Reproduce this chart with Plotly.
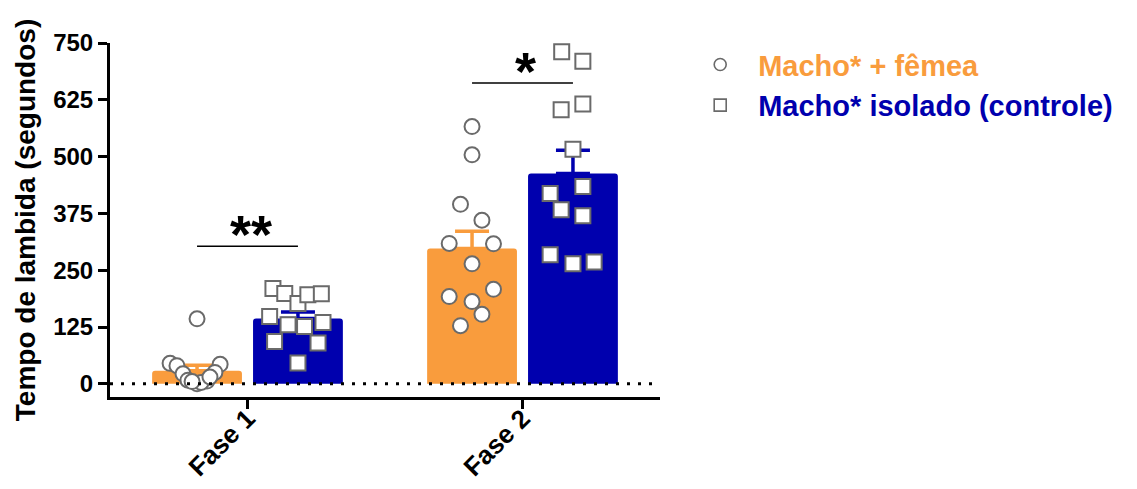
import plotly.graph_objects as go

# Phases on the x axis
phases = ["Fase 1", "Fase 2"]

# Group means and SEM (segundos)
mean_femea = [29, 298]
sem_femea = [12, 38]
mean_isolado = [144, 463]
sem_isolado = [14, 51]

# Individual animals, phase 1
fase1_femea = [143, 45, 40, 43, 22, 25, 8, 6, 0, 3, 15, 5]
fase1_isolado = [210, 199, 177, 196, 198, 148, 130, 126, 135, 93, 90, 46]

# Individual animals, phase 2
fase2_femea = [566, 504, 395, 360, 309, 308, 264, 208, 192, 181, 153, 128]
fase2_isolado = [731, 710, 603, 616, 516, 434, 419, 383, 370, 284, 264, 268]

# Horizontal scatter of the dots inside each bar (axis units)
jit1_femea = [0, -0.098, -0.073, 0.084, -0.051, 0.065, -0.033, 0.036, 0, 0.015, 0.047, -0.018]
jit1_isolado = [-0.091, -0.048, 0, 0.036, 0.085, -0.103, -0.036, 0.024, 0.091, -0.085, 0.073, 0]
jit2_femea = [0, 0, -0.042, 0.036, -0.083, 0.078, 0, 0.078, -0.083, 0, 0.036, -0.042]
jit2_isolado = [-0.041, 0.036, -0.043, 0.036, 0, 0.036, -0.083, -0.043, 0.036, -0.083, 0, 0.077]

yticks = [0, 125, 250, 375, 500, 625, 750]

ORANGE = "#F99C3D"
BLUE = "#0000AE"
GREY = "#6A6A6A"
FONT = "Arial, Liberation Sans, sans-serif"

pos = [0, 1]
half = 0.1835  # centre of each bar relative to its phase tick

fig = go.Figure()

fig.add_trace(go.Bar(
    x=pos, y=mean_femea, marker=dict(color=ORANGE, line=dict(width=0)),
    error_y=dict(type="data", symmetric=False, array=sem_femea,
                 arrayminus=[0, 0], color=ORANGE, thickness=3.5, width=17),
    showlegend=False,
))
fig.add_trace(go.Bar(
    x=pos, y=mean_isolado, marker=dict(color=BLUE, line=dict(width=0)),
    error_y=dict(type="data", symmetric=False, array=sem_isolado,
                 arrayminus=[0, 0], color=BLUE, thickness=3.5, width=17),
    showlegend=False,
))

x_femea = [pos[0] - half + j for j in jit1_femea] + [pos[1] - half + j for j in jit2_femea]
x_isol = [pos[0] + half + j for j in jit1_isolado] + [pos[1] + half + j for j in jit2_isolado]

dot_line = dict(color=GREY, width=2)
fig.add_trace(go.Scatter(
    x=x_femea, y=fase1_femea + fase2_femea, mode="markers",
    marker=dict(symbol="circle", size=15, color="white", line=dot_line),
    showlegend=False,
))
fig.add_trace(go.Scatter(
    x=x_isol, y=fase1_isolado + fase2_isolado, mode="markers",
    marker=dict(symbol="square", size=15, color="white", line=dot_line),
    showlegend=False,
))

# Legend entries with smaller symbols
leg_line = dict(color=GREY, width=1.6)
fig.add_trace(go.Scatter(
    x=[None], y=[None], mode="markers",
    marker=dict(symbol="circle", size=12, color="white", line=leg_line),
    name=f"<span style='color:{ORANGE}'>Macho* + fêmea</span>",
))
fig.add_trace(go.Scatter(
    x=[None], y=[None], mode="markers",
    marker=dict(symbol="square", size=12, color="white", line=leg_line),
    name=f"<span style='color:{BLUE}'>Macho* isolado (controle)</span>",
))

# Significance brackets
brackets = [(0, 303, "**"), (1, 662, "*")]
for xc, yv, star in brackets:
    fig.add_shape(type="line", xref="x", yref="y", x0=xc - half, x1=xc + half,
                  y0=yv, y1=yv, line=dict(color="black", width=1.5))
    fig.add_annotation(x=xc, y=yv, xref="x", yref="y", text=star, showarrow=False,
                       yanchor="bottom", yshift=-20, xshift=3,
                       font=dict(family=FONT, size=54, color="black", weight="bold"))

# Dotted baseline at zero
fig.add_shape(type="line", xref="paper", yref="y", x0=0, x1=1, y0=0, y1=0,
              layer="above", line=dict(color="black", width=3, dash="3px,8px"))

fig.update_layout(
    width=1137, height=489,
    margin=dict(l=110, r=477, t=43, b=92, autoexpand=False),
    paper_bgcolor="white", plot_bgcolor="white",
    barmode="group", bargap=0.266, bargroupgap=0.11,
    barcornerradius=3,
    font=dict(family=FONT, color="black", weight="bold"),
    showlegend=True,
    legend=dict(xref="container", yref="container", x=0.6, y=0.92,
                xanchor="left", yanchor="top",
                font=dict(family=FONT, size=29, weight="bold"),
                itemwidth=66, tracegroupgap=0, bgcolor="rgba(0,0,0,0)"),
    xaxis=dict(range=[-0.5, 1.5], tickvals=pos, ticktext=phases, tickangle=-45,
               automargin=False, ticklabelstandoff=-16,
               showline=True, linecolor="black", linewidth=3, ticks="outside",
               ticklen=9, tickwidth=3, tickcolor="black", showgrid=False, zeroline=False,
               tickfont=dict(family=FONT, size=26, weight="bold")),
    yaxis=dict(range=[-29, 750], tickvals=yticks, showline=True, linecolor="black",
               automargin=False,
               linewidth=3, ticks="outside", ticklen=9, tickwidth=3, tickcolor="black",
               showgrid=False, zeroline=False,
               tickfont=dict(family=FONT, size=24, weight="bold"),
               title=dict(text="Tempo de lambida (segundos)", standoff=10,
                          font=dict(family=FONT, size=28, weight="bold"))),
)

fig.write_html("out.html")
